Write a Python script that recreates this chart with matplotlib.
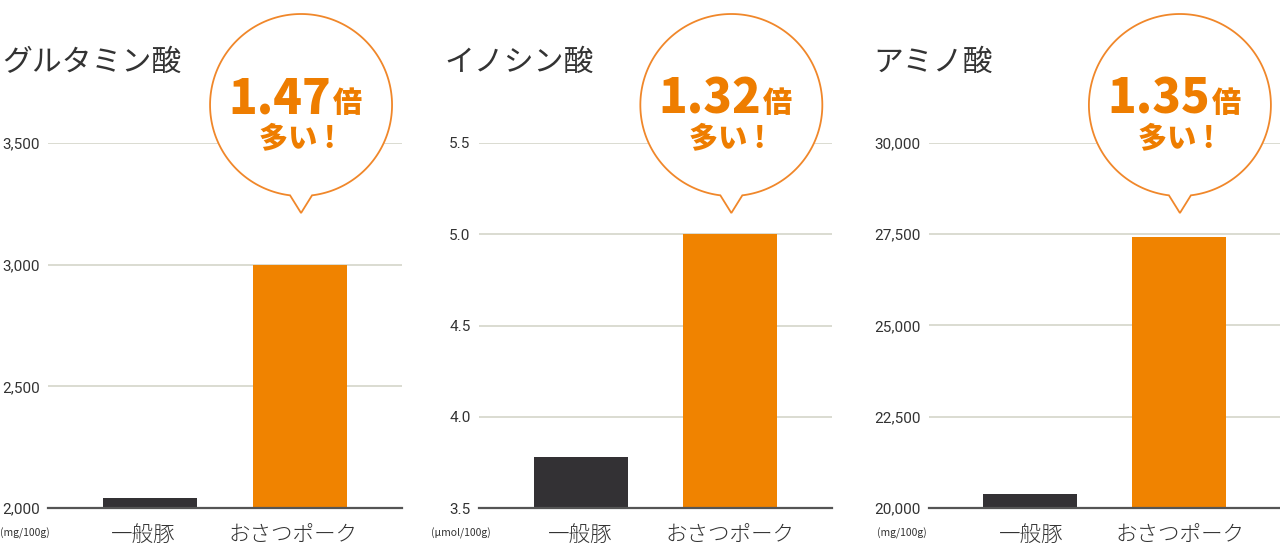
import numpy as np
import matplotlib
matplotlib.use("Agg")
import matplotlib.pyplot as plt
from matplotlib.patches import Polygon

plt.rcParams['font.family'] = ['Noto Sans CJK JP', 'DejaVu Sans']

# ---- data ----
categories = ["一般豚", "おさつポーク"]
titles = ["グルタミン酸", "イノシン酸", "アミノ酸"]
glutamic_values = [2040, 3000]
inosinic_values = [3.78, 5.0]
amino_values = [20380, 27430]
glutamic_ticks = [2000, 2500, 3000, 3500]
inosinic_ticks = [3.5, 4.0, 4.5, 5.0, 5.5]
amino_ticks = [20000, 22500, 25000, 27500, 30000]
glutamic_ticklabels = ["2,000", "2,500", "3,000", "3,500"]
inosinic_ticklabels = ["3.5", "4.0", "4.5", "5.0", "5.5"]
amino_ticklabels = ["20,000", "22,500", "25,000", "27,500", "30,000"]
ratio_labels = ["1.47", "1.32", "1.35"]
units = ["(mg/100g)", "(μmol/100g)", "(mg/100g)"]

values = [glutamic_values, inosinic_values, amino_values]
ticks = [glutamic_ticks, inosinic_ticks, amino_ticks]
ticklabels = [glutamic_ticklabels, inosinic_ticklabels, amino_ticklabels]

# ---- style ----
W, H = 1280, 560
DARK = "#333134"
ORANGE = "#F08300"
TEXT_ORANGE = "#EE7D00"
TEXT = "#333333"
GRID = "#d4d5c9"
BASE = "#555555"

panel_px = [(48, 402), (479, 832), (929, 1280)]   # left/right in px
top_px, bot_px = 143, 508
title_x = [2, 444, 873]
unit_x = [0, 431, 877]
label_shift = [-7, 0, 1]

fig = plt.figure(figsize=(W / 100, H / 100), dpi=100)

x = np.arange(len(categories))
span = 1 / 0.424
a = 0.288 * span
bar_w = 94 / 354 * span

axes = []
for i in range(3):
    l, r = panel_px[i]
    ax = fig.add_axes([l / W, 1 - bot_px / H, (r - l) / W, (bot_px - top_px) / H])
    ax.bar(x, values[i], width=bar_w, color=[DARK, ORANGE], zorder=2)
    ax.set_xlim(-a, -a + span)
    ax.set_ylim(ticks[i][0], ticks[i][-1])
    ax.set_yticks(ticks[i])
    ax.set_yticklabels(ticklabels[i], fontfamily="Roboto", fontsize=11, color=TEXT)
    ax.tick_params(axis='y', length=0, pad=6)
    ax.set_xticks([])
    for s in ["top", "right", "left"]:
        ax.spines[s].set_visible(False)
    ax.spines["bottom"].set_color(BASE)
    ax.spines["bottom"].set_linewidth(1.6)
    ax.spines["bottom"].set_zorder(3)
    ax.yaxis.grid(True, color=GRID, linewidth=1.2, zorder=0)
    ax.set_axisbelow(True)
    axes.append(ax)

# overlay in pixel coordinates
ov = fig.add_axes([0, 0, 1, 1], zorder=10)
ov.set_xlim(0, W)
ov.set_ylim(H, 0)
ov.axis("off")
ov.patch.set_alpha(0)

for i, ax in enumerate(axes):
    xs_px = [ax.transData.transform((xi, ticks[i][0]))[0] for xi in x]
    ov.text(title_x[i], 62, titles[i], fontsize=21.5, color=TEXT, ha="left", va="center")
    ov.text(unit_x[i], 533, units[i], fontsize=7.5, color=TEXT, ha="left", va="center")
    for xp, c in zip(xs_px, categories):
        ov.text(xp + label_shift[i], 535, c, fontsize=15.5, fontweight="light",
                color=TEXT, ha="center", va="center")

    # speech bubble above the orange bar
    cx, cy, r = xs_px[1] + 1, 105, 91
    hw, tip_y = 11, 213
    by = cy + np.sqrt(r ** 2 - hw ** 2)
    t_l = np.arctan2(by - cy, -hw)
    t_r = np.arctan2(by - cy, hw) + 2 * np.pi
    t = np.linspace(t_l, t_r, 200)
    pts = np.column_stack([cx + r * np.cos(t), cy + r * np.sin(t)])
    pts = np.vstack([pts, [cx, tip_y]])
    ov.add_patch(Polygon(pts, closed=True, facecolor="white",
                         edgecolor="#F0872A", linewidth=1.3))
    ov.text(cx + 30, 113, ratio_labels[i], fontsize=34, fontweight="heavy",
            color=TEXT_ORANGE, ha="right", va="baseline")
    ov.text(cx + 32, 112, "倍", fontsize=21, fontweight="heavy",
            color=TEXT_ORANGE, ha="left", va="baseline")
    ov.text(cx - 4, 147, "多い !", fontsize=21, fontweight="heavy",
            color=TEXT_ORANGE, ha="center", va="baseline")

fig.savefig("out.png", dpi=100)
